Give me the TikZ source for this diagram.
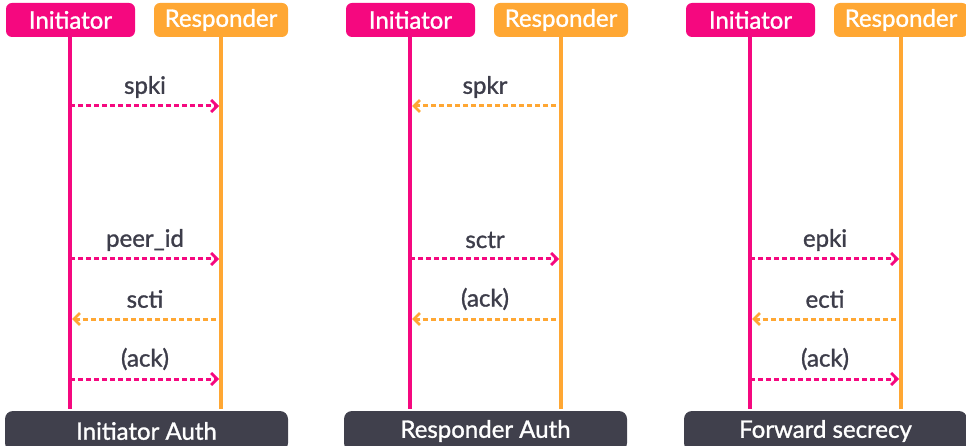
\documentclass[tikz,border=0pt]{standalone}
\usepackage{fontspec}
\setmainfont{Lato}[FakeBold=1.2]
\usetikzlibrary{arrows.meta}
\definecolor{pinkc}{HTML}{F5087F}
\definecolor{orangec}{HTML}{FFA733}
\definecolor{barc}{HTML}{40404C}
\definecolor{txtc}{HTML}{3D3D4A}
\tikzset{
  x=1pt,y=-1pt,
  actor/.style={rounded corners=6pt, minimum height=34pt, inner sep=0pt, text=white, font=\fontsize{24}{26}\selectfont},
  initbox/.style={actor, fill=pinkc, minimum width=129pt},
  respbox/.style={actor, fill=orangec, minimum width=134pt},
  life/.style={line width=3.4pt},
  msg/.style={line width=3pt, dash pattern=on 5pt off 3pt, -{Straight Barb[length=6pt,width=12pt,line width=2.8pt]}},
  lbl/.style={text=txtc, font=\fontsize{24}{26}\selectfont},
  bar/.style={rounded corners=8pt, fill=barc, minimum width=283pt, minimum height=40pt, inner sep=0pt, text=white, font=\fontsize{24}{26}\selectfont}
}
\begin{document}
\begin{tikzpicture}
\useasboundingbox (0,0) rectangle (966,446);
\clip (0,0) rectangle (966,446);
% ---------- Panel 1 ----------
\node[initbox] (i1) at (70.5,20) {Initiator};
\node[respbox] (r1) at (221,20) {Responder};
\coordinate (i1e) at (70,409);
\coordinate (r1e) at (221,409);
\draw[life,pinkc] (i1.south -| i1e) -- (i1e);
\draw[life,orangec] (r1.south -| r1e) -- (r1e);
\coordinate (i1a) at (70,106); \coordinate (r1a) at (219,106);
\coordinate (i1b) at (70,259); \coordinate (r1b) at (219,259);
\coordinate (i1c) at (72,319); \coordinate (r1c) at (216,319);
\coordinate (i1d) at (70,379); \coordinate (r1d) at (219,379);
\draw[msg,pinkc] (i1a) -- (r1a);
\draw[msg,pinkc] (i1b) -- (r1b);
\draw[msg,orangec] (r1c) -- (i1c);
\draw[msg,pinkc] (i1d) -- (r1d);
\node[lbl] (l1a) at (145,87) {spki};
\node[lbl] (l1b) at (145,240) {peer\_id};
\node[lbl] (l1c) at (145,299) {scti};
\node[lbl] (l1d) at (145,359) {(ack)};
\node[bar] (b1) at (146.5,431) {Initiator Auth};
% ---------- Panel 2 ----------
\node[initbox] (i2) at (410.5,20) {Initiator};
\node[respbox] (r2) at (561,20) {Responder};
\coordinate (i2e) at (410,409);
\coordinate (r2e) at (561,409);
\draw[life,pinkc] (i2.south -| i2e) -- (i2e);
\draw[life,orangec] (r2.south -| r2e) -- (r2e);
\coordinate (i2a) at (412,106); \coordinate (r2a) at (556,106);
\coordinate (i2b) at (410,259); \coordinate (r2b) at (559,259);
\coordinate (i2c) at (412,319); \coordinate (r2c) at (556,319);
\draw[msg,orangec] (r2a) -- (i2a);
\draw[msg,pinkc] (i2b) -- (r2b);
\draw[msg,orangec] (r2c) -- (i2c);
\node[lbl] (l2a) at (485,87) {spkr};
\node[lbl] (l2b) at (485,240) {sctr};
\node[lbl] (l2c) at (485,299) {(ack)};
\node[bar] (b2) at (485.5,431) {Responder Auth};
% ---------- Panel 3 ----------
\node[initbox] (i3) at (750.5,20) {Initiator};
\node[respbox] (r3) at (901,20) {Responder};
\coordinate (i3e) at (750,409);
\coordinate (r3e) at (901,409);
\draw[life,pinkc] (i3.south -| i3e) -- (i3e);
\draw[life,orangec] (r3.south -| r3e) -- (r3e);
\coordinate (i3b) at (750,259); \coordinate (r3b) at (899,259);
\coordinate (i3c) at (752,319); \coordinate (r3c) at (896,319);
\coordinate (i3d) at (750,379); \coordinate (r3d) at (899,379);
\draw[msg,pinkc] (i3b) -- (r3b);
\draw[msg,orangec] (r3c) -- (i3c);
\draw[msg,pinkc] (i3d) -- (r3d);
\node[lbl] (l3b) at (825,240) {epki};
\node[lbl] (l3c) at (825,299) {ecti};
\node[lbl] (l3d) at (825,359) {(ack)};
\node[bar] (b3) at (825.5,431) {Forward secrecy};
\end{tikzpicture}
\end{document}
